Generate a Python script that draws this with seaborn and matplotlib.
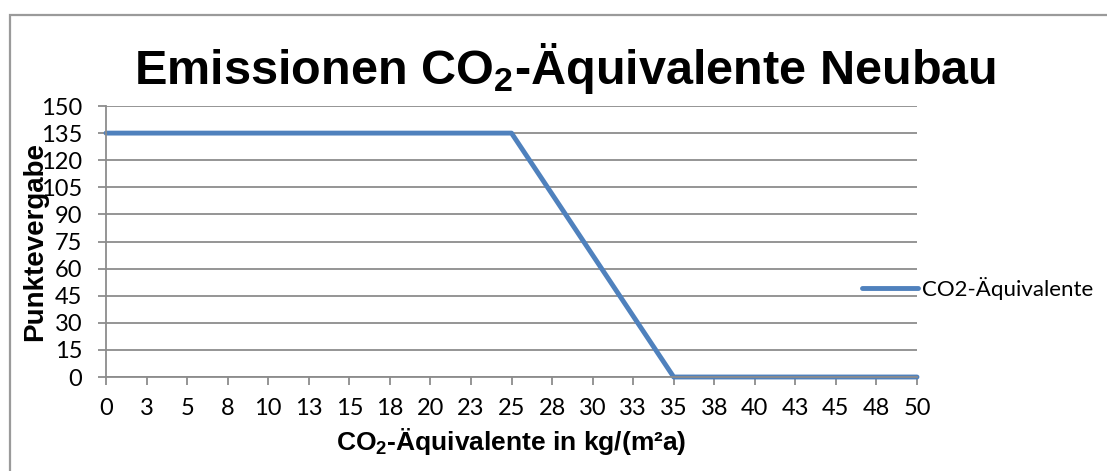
import pandas as pd
import seaborn as sns
import matplotlib.pyplot as plt
from matplotlib.patches import Rectangle

# data
x_values = [0, 2.5, 5, 7.5, 10, 12.5, 15, 17.5, 20, 22.5, 25,
            27.5, 30, 32.5, 35, 37.5, 40, 42.5, 45, 47.5, 50]
x_labels = ["0", "3", "5", "8", "10", "13", "15", "18", "20", "23", "25",
            "28", "30", "33", "35", "38", "40", "43", "45", "48", "50"]
punkte = [135, 135, 135, 135, 135, 135, 135, 135, 135, 135, 135,
          101.25, 67.5, 33.75, 0, 0, 0, 0, 0, 0, 0]
y_ticks = [0, 15, 30, 45, 60, 75, 90, 105, 120, 135, 150]

df = pd.DataFrame({"x": x_values, "punkte": punkte})

sns.set_style("white")
plt.rcParams["font.family"] = ["Lato", "DejaVu Sans"]
plt.rcParams["mathtext.default"] = "regular"
plt.rcParams["text.color"] = "black"

W, H = 1107, 471
fig = plt.figure(figsize=(W / 100, H / 100), dpi=100)
ax = fig.add_axes([106 / W, 1 - 377 / H, (917 - 106) / W, (377 - 106) / H])

grid_c = "#8c8c8c"
blue = "#4f81bd"
bold_font = ["Liberation Sans", "DejaVu Sans"]

sns.lineplot(data=df, x="x", y="punkte", ax=ax, color=blue, linewidth=3.5,
             label="CO2-Äquivalente", clip_on=False)

ax.set_xlim(0, 50)
ax.set_ylim(0, 150)
ax.set_xticks(x_values)
ax.set_xticklabels(x_labels)
ax.set_yticks(y_ticks)
ax.set_yticklabels([str(v) for v in y_ticks])
ax.grid(axis="y", color=grid_c, linewidth=1.3)
ax.set_axisbelow(True)
for s in ["top", "right"]:
    ax.spines[s].set_visible(False)
for s in ["left", "bottom"]:
    ax.spines[s].set_color(grid_c)
    ax.spines[s].set_linewidth(1.3)
ax.tick_params(axis="both", direction="out", length=6, width=1.3, color=grid_c,
               labelsize=17, labelcolor="black")
ax.tick_params(axis="y", pad=11, left=True)
ax.tick_params(axis="x", pad=9, bottom=True)

ax.set_xlabel("CO$_2$-Äquivalente in kg/(m²a)", family=bold_font,
              fontsize=19, fontweight="bold", labelpad=5, color="black")
ax.set_ylabel("Punktevergabe", family=bold_font, fontsize=20, fontweight="bold",
              color="black")
ax.yaxis.set_label_coords(-58 / 811, 0.5)

fig.text(565 / W, 1 - 69 / H, "Emissionen CO$_2$-Äquivalente Neubau",
         family=bold_font, fontsize=35, fontweight="bold", color="black",
         ha="center", va="center")

leg = ax.legend(loc="center left", bbox_to_anchor=(862 / W, 1 - 288 / H),
                bbox_transform=fig.transFigure, frameon=False, fontsize=16,
                handlelength=2.5, handletextpad=0.2, borderpad=0, borderaxespad=0)
for t in leg.get_texts():
    t.set_color("black")

fig.patches.append(Rectangle((9.5 / W, -0.1), 1.2, 1.1 - 14.5 / H,
                             transform=fig.transFigure, fill=False,
                             edgecolor="#9a9a9a", linewidth=1.6))

fig.savefig("out.png", dpi=100)
